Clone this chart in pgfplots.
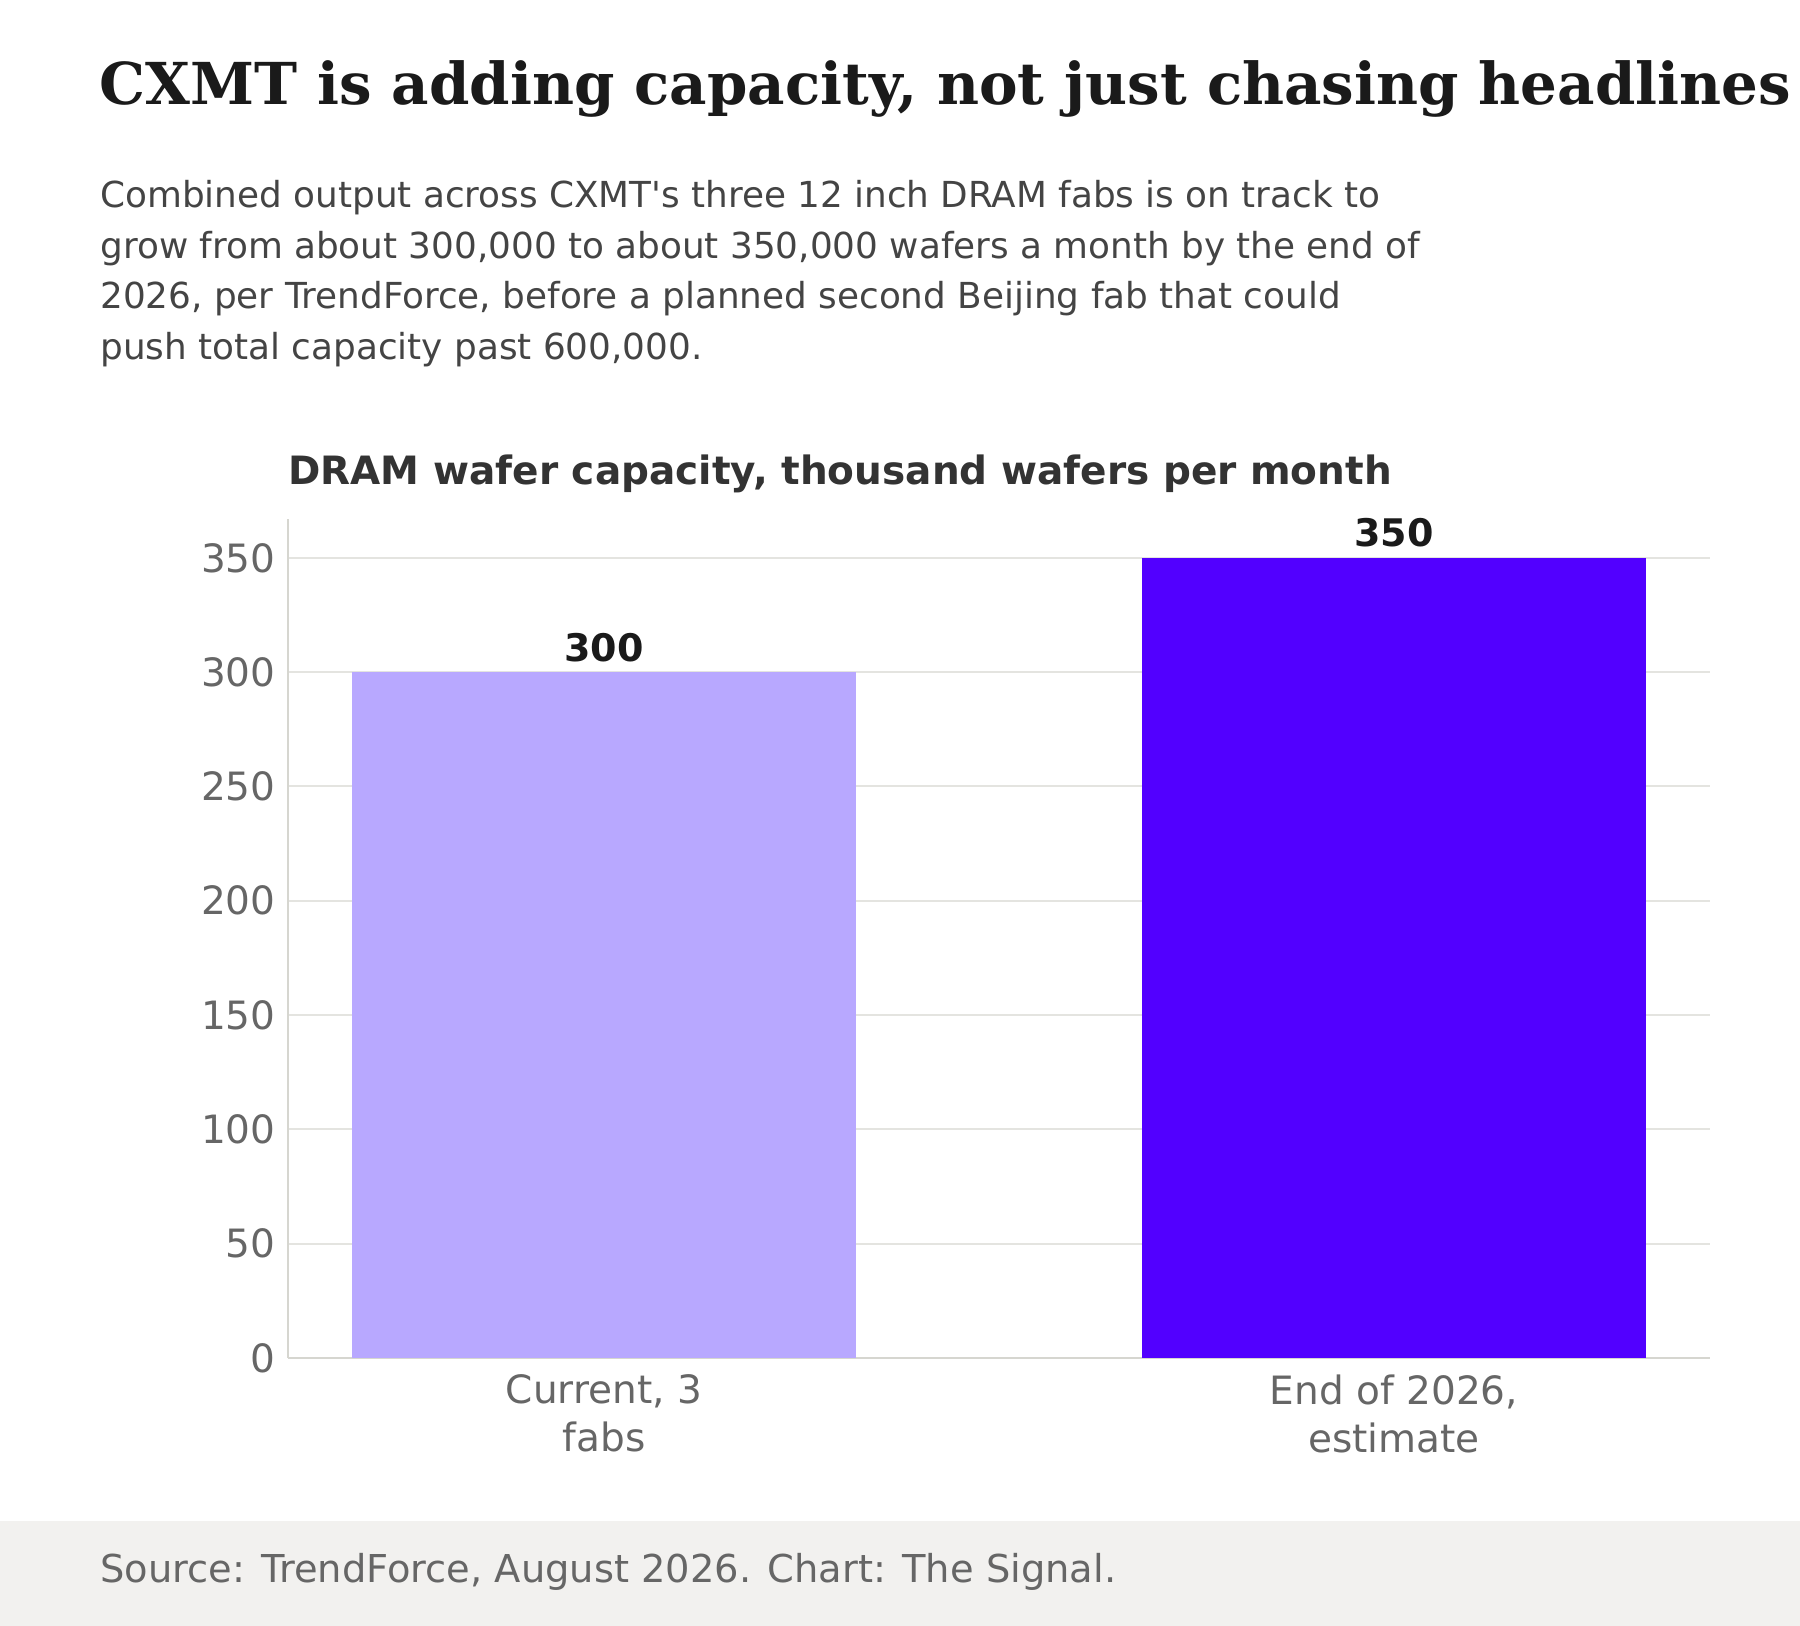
\documentclass[border=0pt]{standalone}
\usepackage{pgfplots}
\pgfplotsset{compat=1.18}
\usepackage{fontspec}
\setmainfont{DejaVu Sans}[Ligatures=TeXOff]
\newfontfamily\seriffont{DejaVu Serif}
\definecolor{titlec}{HTML}{1A1A1A}
\definecolor{subc}{HTML}{444444}
\definecolor{ctitlec}{HTML}{333333}
\definecolor{tickc}{HTML}{666666}
\definecolor{footbg}{HTML}{F2F1EF}
\definecolor{axisc}{HTML}{D6D6D0}
\definecolor{gridc}{HTML}{E4E4E0}
\definecolor{barlight}{HTML}{B8A8FF}
\definecolor{bardark}{HTML}{5200FF}
\begin{document}
\begin{tikzpicture}[x=0.5pt,y=0.5pt]
\useasboundingbox (0,0) rectangle (1800,-1626);
\clip (0,0) rectangle (1800,-1626);
\fill[white] (0,0) rectangle (1800,-1626);
\fill[footbg] (0,-1521) rectangle (1800,-1626);
\node[anchor=base west,inner sep=0pt,text=titlec] at (99,-105) {\seriffont\bfseries\fontsize{28.9}{35}\selectfont CXMT is adding capacity, not just chasing headlines};
\begin{scope}[every node/.style={anchor=base west,inner sep=0pt,text=subc,font=\fontsize{17.9}{22}\selectfont}]
\node at (100,-208) {Combined output across CXMT's three 12 inch DRAM fabs is on track to};
\node at (100,-258.5) {grow from about 300,000 to about 350,000 wafers a month by the end of};
\node at (100,-309) {2026, per TrendForce, before a planned second Beijing fab that could};
\node at (100,-359.5) {push total capacity past 600,000.};
\end{scope}
\node[anchor=base west,inner sep=0pt,text=ctitlec,font=\bfseries\fontsize{19.5}{23}\selectfont] at (288,-485) {DRAM wafer capacity, thousand wafers per month};
\node[anchor=base west,inner sep=0pt,text=tickc,font=\fontsize{19.2}{23}\selectfont] at (100,-1582) {Source: TrendForce, August 2026. Chart: The Signal.};
\begin{axis}[
  at={(144pt,-679pt)}, anchor=south west,
  scale only axis, width=711pt, height=419.5pt,
  xmin=-0.4, xmax=1.4, ymin=0, ymax=367,
  ybar, bar width=252pt, bar shift=0pt,
  axis x line*=bottom, axis y line*=left,
  axis line style={axisc, line width=1pt},
  ytick={0,50,...,350},
  xtick={0,1},
  xticklabels={{Current, 3\\fabs},{End of 2026,\\estimate}},
  major tick length=0pt,
  ymajorgrids, grid style={gridc, line width=1pt},
  /pgf/number format/assume math mode=true,
  yticklabel style={font=\fontsize{19.5}{24}\selectfont, text=tickc, inner sep=0pt, xshift=-6pt},
  xticklabel style={font=\fontsize{19.5}{24}\selectfont, text=tickc, align=center, inner sep=0pt, yshift=-8pt},
  nodes near coords,
  every node near coord/.append style={font=\bfseries\fontsize{19}{24}\selectfont, text=titlec, inner sep=0pt, yshift=5pt, anchor=south},
  clip=false,
]
\addplot[fill=barlight, draw=none] coordinates {(0,300)};
\addplot[fill=bardark, draw=none] coordinates {(1,350)};
\end{axis}
\end{tikzpicture}
\end{document}
